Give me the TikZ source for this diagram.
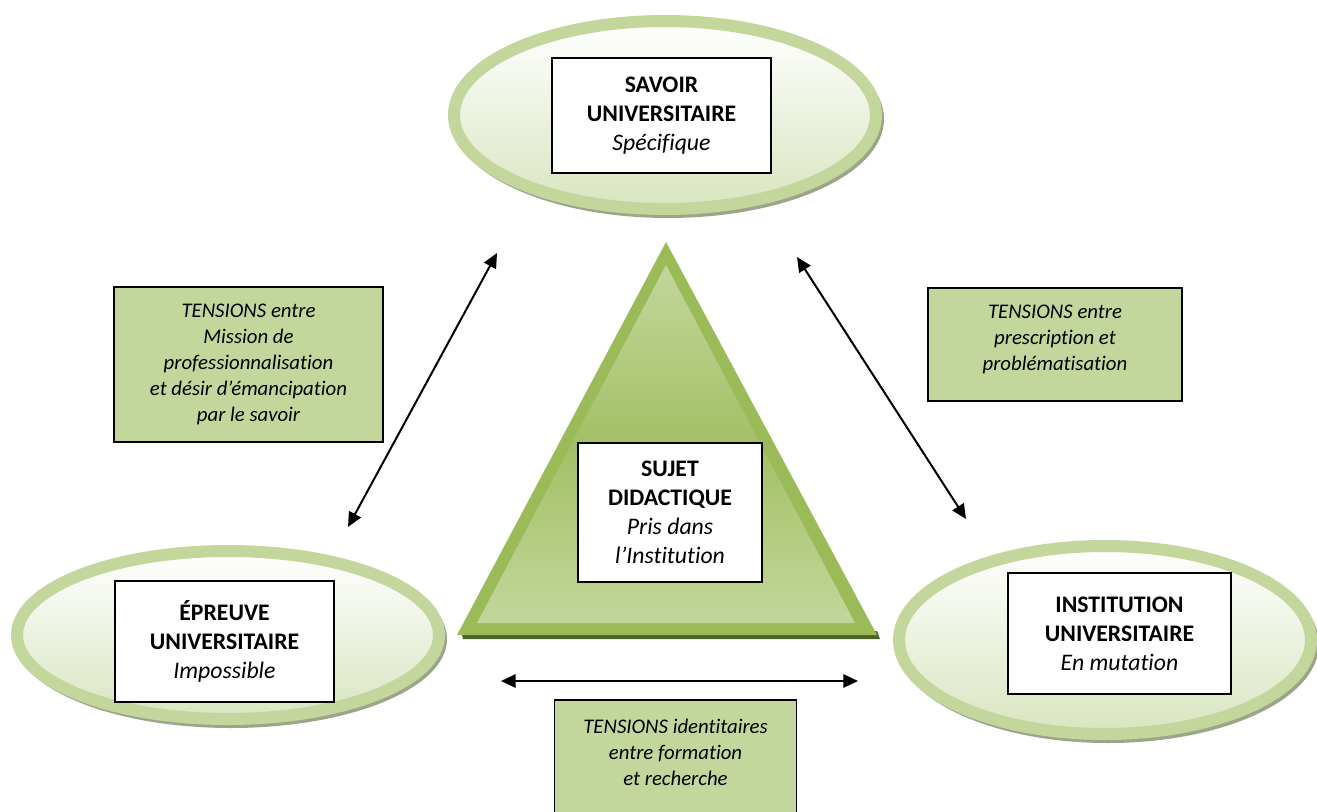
\documentclass[tikz,border=0pt]{standalone}
\usepackage{fontspec}
\setmainfont[Ligatures=NoCommon]{Carlito}
\usetikzlibrary{shapes.geometric,arrows.meta}
\definecolor{lgreen}{HTML}{C3D69B}
\definecolor{mgreen}{HTML}{9BBB59}
\definecolor{dgreen}{HTML}{4F6228}
\definecolor{pale}{HTML}{D9E5C0}
\definecolor{shadowc}{HTML}{9CA58A}
\begin{document}
\begin{tikzpicture}[x=0.75pt,y=-0.75pt,
  ell/.style={ellipse, draw=lgreen, line width=9pt, top color=white, bottom color=pale,
    minimum width=316.5pt, minimum height=141pt, inner sep=0pt},
  wbox/.style={draw=black, line width=1.2pt, fill=white, align=center, inner sep=0pt,
    font=\fontsize{17.8}{21.75}\selectfont},
  gbox/.style={draw=black, line width=1.2pt, fill=lgreen, inner sep=0pt},
  gtext/.style={align=center, inner sep=0pt, font=\fontsize{15.6}{19.5}\selectfont\itshape},
  arr/.style={line width=1.5pt, {Triangle[length=11pt,width=10pt]}-{Triangle[length=11pt,width=10pt]}}
]
\useasboundingbox (0,0) rectangle (1317,811);
\clip (0,0) rectangle (1317,811);
% centres
\coordinate (cS) at (665,115);
\coordinate (cE) at (228,635);
\coordinate (cI) at (1105,640);
% shadows of the ellipses
\fill[shadowc] ([shift={(3,4)}]cS) ellipse [x radius=216, y radius=99];
\fill[shadowc] ([shift={(3,4)}]cE) ellipse [x radius=216, y radius=89];
\fill[shadowc] ([shift={(3,4)}]cI) ellipse [x radius=211, y radius=99];
% ellipses
\node[ell] (eS) at (cS) {};
\node[ell, minimum height=126pt] (eE) at (cE) {};
\node[ell, minimum width=309pt] (eI) at (cI) {};
% triangle
\fill[dgreen] (461,631) -- (877,631) -- (880,639) -- (463,639) -- cycle;
\fill[mgreen] (666,242) -- (877,635) -- (457,635) -- cycle;
\shade[top color=lgreen, bottom color=lgreen, middle color=mgreen!80!lgreen]
  (666,265) -- (855,623) -- (477,623) -- cycle;
% white boxes
\node[wbox, minimum width=164.25pt, minimum height=86.25pt] (savoir) at (661.5,115.5)
  {\textbf{SAVOIR}\\\textbf{UNIVERSITAIRE}\\\textit{Spécifique}};
\node[wbox, minimum width=164.25pt, minimum height=90.75pt] (epreuve) at (224.5,641.5)
  {\textbf{ÉPREUVE}\\\textbf{UNIVERSITAIRE}\\\textit{Impossible}};
\node[wbox, minimum width=167.25pt, minimum height=90.75pt] (institution) at (1119.5,633.5)
  {\textbf{INSTITUTION}\\\textbf{UNIVERSITAIRE}\\\textit{En mutation}};
\node[wbox, minimum width=138pt, minimum height=104.25pt] (sujet) at (670,512.5)
  {\textbf{SUJET}\\\textbf{DIDACTIQUE}\\\textit{Pris dans}\\\textit{l’Institution}};
% tension boxes
\node[gbox, minimum width=201.75pt, minimum height=116.25pt] (tL) at (248.5,364.5) {};
\node[gtext] (tLt) at (248.5,364) {TENSIONS entre\\Mission de\\professionnalisation\\et désir d’émancipation\\par le savoir};
\node[gbox, minimum width=190.5pt, minimum height=84.75pt] (tR) at (1055,344.5) {};
\node[gtext] (tRt) at (1055,339) {TENSIONS entre\\prescription et\\problématisation};
\node[gbox, minimum width=181.5pt, minimum height=120pt] (tB) at (675.5,780) {};
\node[gtext] (tBt) at (675.5,752) {TENSIONS identitaires\\entre formation\\et recherche};
% arrows
\coordinate (aL1) at (348,527);
\coordinate (aL2) at (497,253);
\coordinate (aR1) at (797,257);
\coordinate (aR2) at (966,519);
\coordinate (aB1) at (501,681);
\coordinate (aB2) at (858,681);
\draw[arr] (aL1) -- (aL2);
\draw[arr] (aR1) -- (aR2);
\draw[arr] (aB1) -- (aB2);
\end{tikzpicture}
\end{document}
